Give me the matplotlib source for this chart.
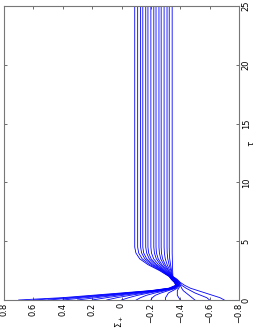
import matplotlib
matplotlib.use('Agg')
import matplotlib.pyplot as plt

# time grid (tau) shared by all curves
tau = [0, 0.2, 0.4, 0.6, 0.8, 1.0, 1.25, 1.5, 1.75, 2.0, 2.5, 3.0, 3.5, 4.0, 4.5, 25]

# Sigma_+ along tau, one row per initial value (0.7 ... -0.7)
sigma_plus = [
    [0.70, 0.40, 0.20, 0.00, -0.20, -0.32, -0.37, -0.36, -0.34, -0.324, -0.259, -0.181, -0.124, -0.098, -0.09, -0.09],
    [0.60, 0.35, 0.16, -0.03, -0.21, -0.33, -0.37, -0.36, -0.34, -0.326, -0.266, -0.194, -0.141, -0.117, -0.11, -0.11],
    [0.50, 0.30, 0.12, -0.05, -0.22, -0.33, -0.375, -0.365, -0.345, -0.328, -0.273, -0.207, -0.159, -0.137, -0.13, -0.13],
    [0.40, 0.24, 0.08, -0.07, -0.23, -0.34, -0.375, -0.365, -0.345, -0.330, -0.278, -0.217, -0.172, -0.151, -0.145, -0.145],
    [0.30, 0.17, 0.04, -0.10, -0.24, -0.34, -0.38, -0.37, -0.35, -0.332, -0.285, -0.230, -0.189, -0.171, -0.165, -0.165],
    [0.20, 0.10, -0.01, -0.13, -0.26, -0.35, -0.38, -0.37, -0.35, -0.333, -0.290, -0.239, -0.202, -0.185, -0.18, -0.18],
    [0.10, 0.03, -0.06, -0.16, -0.27, -0.35, -0.385, -0.375, -0.355, -0.335, -0.297, -0.252, -0.219, -0.204, -0.20, -0.20],
    [0.00, -0.05, -0.11, -0.19, -0.28, -0.36, -0.385, -0.375, -0.355, -0.337, -0.304, -0.265, -0.237, -0.224, -0.22, -0.22],
    [-0.10, -0.13, -0.17, -0.23, -0.30, -0.36, -0.39, -0.38, -0.36, -0.339, -0.310, -0.275, -0.250, -0.238, -0.235, -0.235],
    [-0.20, -0.21, -0.23, -0.27, -0.32, -0.37, -0.39, -0.38, -0.36, -0.341, -0.317, -0.288, -0.267, -0.258, -0.255, -0.255],
    [-0.30, -0.30, -0.31, -0.32, -0.35, -0.38, -0.395, -0.385, -0.365, -0.342, -0.322, -0.298, -0.280, -0.272, -0.27, -0.27],
    [-0.40, -0.39, -0.38, -0.38, -0.38, -0.39, -0.40, -0.39, -0.37, -0.344, -0.329, -0.311, -0.298, -0.292, -0.29, -0.29],
    [-0.50, -0.48, -0.46, -0.44, -0.42, -0.41, -0.40, -0.39, -0.37, -0.346, -0.336, -0.324, -0.315, -0.311, -0.31, -0.31],
    [-0.60, -0.58, -0.54, -0.50, -0.47, -0.44, -0.41, -0.395, -0.375, -0.348, -0.341, -0.334, -0.328, -0.326, -0.325, -0.325],
    [-0.70, -0.67, -0.62, -0.57, -0.52, -0.47, -0.43, -0.40, -0.38, -0.350, -0.348, -0.347, -0.346, -0.345, -0.345, -0.345],
]

sigma_ticks = [0.8, 0.6, 0.4, 0.2, 0, -0.2, -0.4, -0.6, -0.8]
tau_ticks = [0, 5, 10, 15, 20, 25]

# the figure is drawn turned by 90 degrees: tau runs upward, Sigma_+ runs right-to-left
fig = plt.figure(figsize=(2.58, 3.31), dpi=100)
ax = fig.add_axes([4/258, 31/331, 235/258, 294/331])

for row in sigma_plus:
    ax.plot(row, tau, color='blue', lw=0.6)

ax.set_xlim(0.8, -0.8)
ax.set_ylim(0, 25)
ax.set_xticks(sigma_ticks)
ax.set_xticklabels([f'{v:g}'.replace('-', '\u2212') for v in sigma_ticks], rotation=90)
ax.set_yticks(tau_ticks)
ax.set_yticklabels([str(t) for t in tau_ticks], rotation=90, va='center')

ax.yaxis.tick_right()
ax.tick_params(direction='in', length=2.5, width=0.6, labelsize=6, pad=2,
               top=True, bottom=True, left=True, right=True,
               labelleft=False, labelright=True, color='#555555')
for s in ax.spines.values():
    s.set_color('#777777')
    s.set_linewidth(0.8)

fig.text(120/258, 1 - 322/331, r'$\Sigma_+$', rotation=90, fontsize=6, ha='center', va='center')
fig.text(251/258, 1 - 143/331, r'$\tau$', rotation=90, fontsize=6, ha='center', va='center')

fig.savefig('out.png', dpi=100)
